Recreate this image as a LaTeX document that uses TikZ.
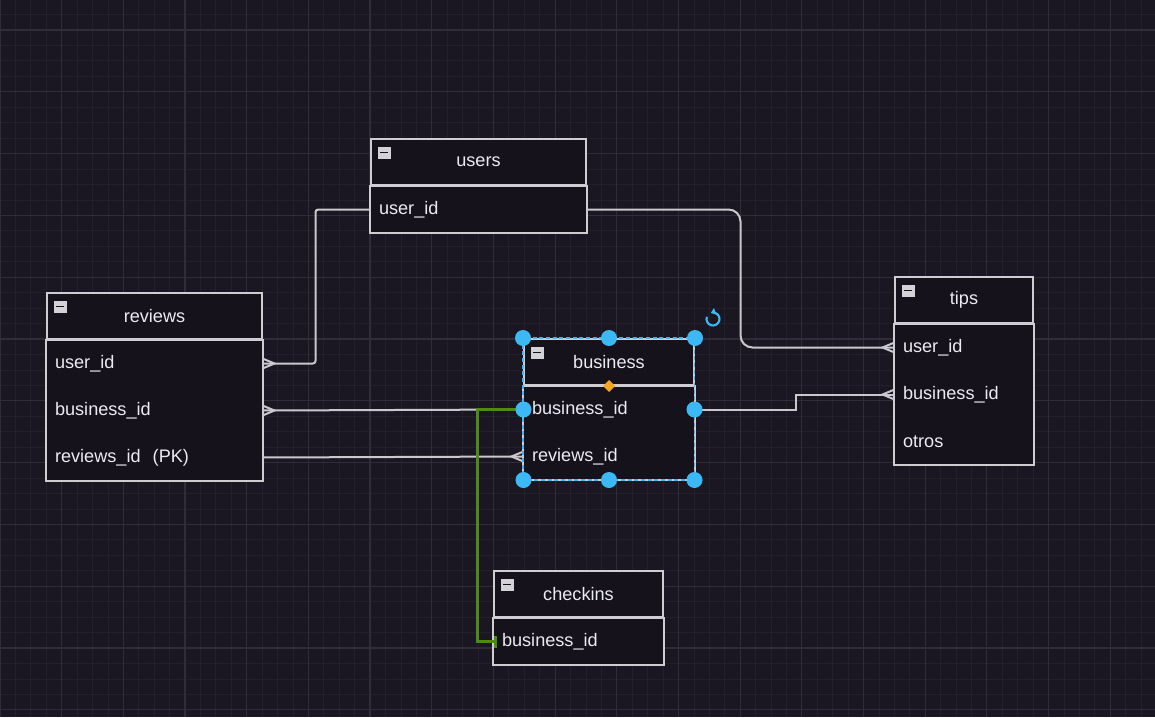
\documentclass[tikz,border=0pt]{standalone}
\usepackage{fontspec}
\setmainfont{Liberation Sans}
\usetikzlibrary{positioning,arrows.meta}

\definecolor{bgcol}{RGB}{26,23,34}
\definecolor{minorcol}{RGB}{34,32,43}
\definecolor{majorcol}{RGB}{47,45,56}
\definecolor{tblline}{RGB}{205,205,210}
\definecolor{tblfill}{RGB}{21,18,27}
\definecolor{txtcol}{RGB}{236,236,240}
\definecolor{linkcol}{RGB}{200,200,205}
\definecolor{fkgreen}{RGB}{74,140,20}
\definecolor{handcol}{RGB}{60,185,245}
\definecolor{markcol}{RGB}{245,166,35}
\definecolor{iconcol}{RGB}{210,210,215}

\newcommand{\tblfont}{\fontsize{13.6}{16}\selectfont}

\pgfdeclarelayer{background}
\pgfsetlayers{background,main}

\tikzset{every picture/.style={line width=0.75pt}}
\tikzset{
  tblhead/.style={draw=tblline, fill=tblfill, line width=1.5pt, minimum height=34.5pt, inner sep=0pt, text=txtcol, font=\tblfont},
  tblrow/.style={text width=#1, inner xsep=6pt, inner ysep=0pt, minimum height=34.5pt, align=left, text=txtcol, font=\tblfont},
  tblborder/.style={draw=tblline, line width=1.5pt},
  minusbox/.style={fill=iconcol, minimum width=9.75pt, minimum height=9pt, inner sep=0pt, anchor=north west,
    path picture={\draw[tblfill, line width=1.2pt] ([xshift=2pt]path picture bounding box.west) -- ([xshift=-2pt]path picture bounding box.east);}},
  link/.style={draw=linkcol, line width=1.5pt},
  fklink/.style={draw=fkgreen, line width=1.8pt},
  crowR/.pic={\draw[link] (0,-5) -- (12,0) -- (0,5);},
  crowL/.pic={\draw[link] (0,-5) -- (-12,0) -- (0,5);},
  handle/.style={fill=handcol}
}

\begin{document}
\begin{tikzpicture}[x=0.75pt,y=0.75pt,yscale=-1,xscale=1]
		\useasboundingbox (0,0) rectangle (1155,717);
		
		%Table: users
		\node [tblhead, minimum width=161.25pt] (users) at (478.5,162) {users};
		\node [tblrow=149.25pt, below=0pt of users] (us1) {user\_id};
		\node [minusbox] (us-min) at ([shift={(7,8)}]users.north west) {};
		
		%Table: reviews
		\node [tblhead, minimum width=161.25pt] (reviews) at (154.5,316) {reviews};
		\node [tblrow=149.25pt, below=0pt of reviews] (rv1) {user\_id};
		\node [tblrow=149.25pt, below=0pt of rv1] (rv2) {business\_id};
		\node [tblrow=149.25pt, below=0pt of rv2] (rv3) {reviews\_id\ \ (PK)};
		\node [minusbox] (rv-min) at ([shift={(7,8)}]reviews.north west) {};
		
		%Table: business
		\node [tblhead, minimum width=127.5pt] (business) at (609,362) {business};
		\node [tblrow=115.5pt, below=0pt of business] (bz1) {business\_id};
		\node [tblrow=115.5pt, below=0pt of bz1] (bz2) {reviews\_id};
		\node [minusbox] (bz-min) at ([shift={(7,8)}]business.north west) {};
		
		%Table: tips
		\node [tblhead, minimum width=103.5pt] (tips) at (964,300) {tips};
		\node [tblrow=91.5pt, below=0pt of tips] (tp1) {user\_id};
		\node [tblrow=91.5pt, below=0pt of tp1] (tp2) {business\_id};
		\node [tblrow=91.5pt, below=0pt of tp2] (tp3) {otros};
		\node [minusbox] (tp-min) at ([shift={(7,8)}]tips.north west) {};
		
		%Table: checkins
		\node [tblhead, minimum width=126.75pt] (checkins) at (578.5,594) {checkins};
		\node [tblrow=114.75pt, below=0pt of checkins] (ck1) {business\_id};
		\node [minusbox] (ck-min) at ([shift={(7,8)}]checkins.north west) {};
		
		\begin{pgfonlayer}{background}
		%Background
		\fill [bgcol] (0,0) rectangle (1155,717);
		%Grid
		\foreach \i in {0,...,75} \draw [minorcol] [line width=0.6] (\i*15.42,0) -- (\i*15.42,717);
		\foreach \j in {-1,...,46} \draw [minorcol] [line width=0.6] (0,30+\j*15.45) -- (1155,30+\j*15.45);
		\foreach \i in {0,...,18} \draw [majorcol] [line width=0.9] (\i*61.68,0) -- (\i*61.68,717);
		\foreach \j in {0,...,11} \draw [majorcol] [line width=0.9] (0,30+\j*61.8) -- (1155,30+\j*61.8);
		%Table bodies
		\fill [tblfill] (users.south west) rectangle (us1.south east);
		\fill [tblfill] (reviews.south west) rectangle (rv3.south east);
		\fill [tblfill] (business.south west) rectangle (bz2.south east);
		\fill [tblfill] (tips.south west) rectangle (tp3.south east);
		\fill [tblfill] (checkins.south west) rectangle (ck1.south east);
		\end{pgfonlayer}
		
		\draw [tblborder] (users.south west) rectangle (us1.south east);
		\draw [tblborder] (reviews.south west) rectangle (rv3.south east);
		\draw [tblborder] (business.south west) rectangle (bz2.south east);
		\draw [tblborder] (tips.south west) rectangle (tp3.south east);
		\draw [tblborder] (checkins.south west) rectangle (ck1.south east);
		
		%Links
		\draw [link] [rounded corners=2] (us1.west) -- ++(-55,0) |- (rv1.east);
		\pic at (rv1.east) {crowR};
		\draw [link] (rv2.east) -- (bz1.west);
		\pic at (rv2.east) {crowR};
		\draw [link] (rv3.east) -- (bz2.west);
		\pic at (bz2.west) {crowL};
		\draw [link] [rounded corners=9] (us1.east) -- ++(154,0) |- (tp1.west);
		\pic at (tp1.west) {crowL};
		\draw [link] (bz1.east) -- ++(101,0) |- (tp2.west);
		\pic at (tp2.west) {crowL};
		%Green link
		\draw [fklink] (bz1.west) -- ++(-46,0) |- (ck1.west);
		\draw [fklink] ([shift={(2,-6)}]ck1.west) -- ([shift={(2,6)}]ck1.west);
		
		%Selection
		\draw [handcol] [line width=1.3, dash pattern=on 3pt off 2pt] (business.north west) rectangle (bz2.south east);
		\foreach \p in {business.north west, business.north, business.north east, bz1.west, bz1.east, bz2.south west, bz2.south, bz2.south east}
			\fill [handle] (\p) circle [radius=8];
		\fill [markcol] ([shift={(0,-6)}]business.south) -- ([shift={(6,0)}]business.south) -- ([shift={(0,6)}]business.south) -- ([shift={(-6,0)}]business.south) -- cycle;
		\coordinate (rot) at ([shift={(18,-19)}]business.north east);
		\draw [handcol] [line width=1.6, -{Triangle[length=3.5pt,width=5pt]}] ([shift={(200:6.5)}]rot) arc [start angle=200, end angle=-110, radius=6.5];
		
\end{tikzpicture}
\end{document}
